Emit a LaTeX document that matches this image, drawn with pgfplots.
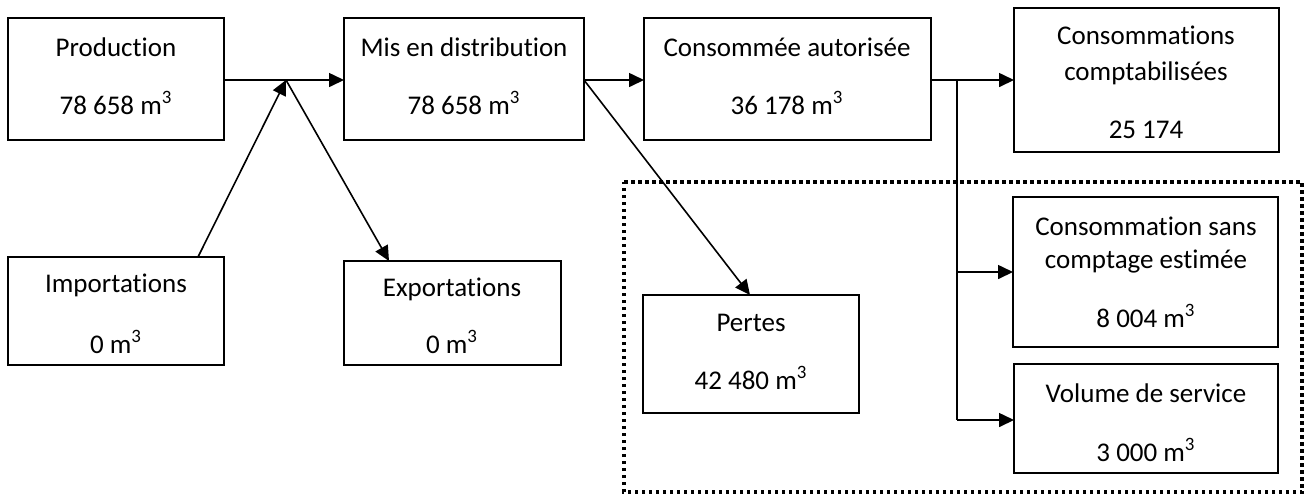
\documentclass[border=0pt]{standalone}
\usepackage{fontspec}
\setmainfont{Carlito}[Ligatures=NoCommon]
\usepackage{pgfplots}
\pgfplotsset{compat=1.18}
\usetikzlibrary{arrows.meta}

% box outline: corners in pixel units of the reference (y runs down)
\newcommand{\bx}[4]{%
  \addplot[black, line width=1pt, line cap=rect, line join=miter]
    coordinates {(#1,#2) (#3,#2) (#3,#4) (#1,#4) (#1,#2)};}

\tikzset{lbl/.style={font=\fontsize{13.5}{16}\selectfont, inner sep=0pt}}

\begin{document}
\begin{tikzpicture}
\begin{axis}[
    width=655.5pt,
    height=247.5pt,
    scale only axis,
    xmin=0, xmax=1311,
    ymin=0, ymax=495,
    y dir=reverse,
    hide axis,
    clip=false,
    arr/.style={black, line width=0.8pt, -{Triangle[length=7.5pt,width=7pt]}},
    ln/.style={black, line width=0.8pt},
]
% frame of the picture
\addplot[draw=none] coordinates {(0,0) (1311,495)};

% dotted group frame
\addplot[black, line width=1.75pt, dash pattern=on 1.75pt off 1.75pt]
  coordinates {(624,182) (1302,182) (1302,492) (624,492) (624,182)};

% boxes
\bx{8}{18}{224}{140}
\bx{344}{18}{584}{140}
\bx{644}{18}{931}{140}
\bx{1014}{8}{1279}{152}
\bx{8}{257}{224}{365}
\bx{344}{261}{561}{365}
\bx{643}{295}{859}{413}
\bx{1013}{197}{1278}{347}
\bx{1014}{364}{1278}{473}

% arrows
\addplot[arr] coordinates {(224,80) (344,80)};
\addplot[arr] coordinates {(198,257) (286,80)};
\addplot[arr] coordinates {(286,80) (389,261)};
\addplot[arr] coordinates {(584,80) (644,80)};
\addplot[arr] coordinates {(584,80) (750,295)};
\addplot[arr] coordinates {(931,80) (1014,80)};
\addplot[ln]  coordinates {(957,80) (957,420)};
\addplot[arr] coordinates {(957,272) (1013,272)};
\addplot[arr] coordinates {(957,420) (1014,420)};

% texts
\node[lbl] at (116,47) {Production};
\node[lbl] at (116,103) {78 658 m\textsuperscript{3}};
\node[lbl] at (464,47) {Mis en distribution};
\node[lbl] at (464,103) {78 658 m\textsuperscript{3}};
\node[lbl] at (787,47) {Consommée autorisée};
\node[lbl] at (787,103) {36 178 m\textsuperscript{3}};
\node[lbl] at (1146,35) {Consommations};
\node[lbl] at (1146,73) {comptabilisées};
\node[lbl] at (1146,130) {25 174};
\node[lbl] at (116,285) {Importations};
\node[lbl] at (116,342) {0 m\textsuperscript{3}};
\node[lbl] at (452,289) {Exportations};
\node[lbl] at (452,342) {0 m\textsuperscript{3}};
\node[lbl] at (751,323) {Pertes};
\node[lbl] at (751,378) {42 480 m\textsuperscript{3}};
\node[lbl] at (1146,226) {Consommation sans};
\node[lbl] at (1146,262) {comptage estimée};
\node[lbl] at (1146,316) {8 004 m\textsuperscript{3}};
\node[lbl] at (1146,393) {Volume de service};
\node[lbl] at (1146,450) {3 000 m\textsuperscript{3}};
\end{axis}
\end{tikzpicture}
\end{document}
